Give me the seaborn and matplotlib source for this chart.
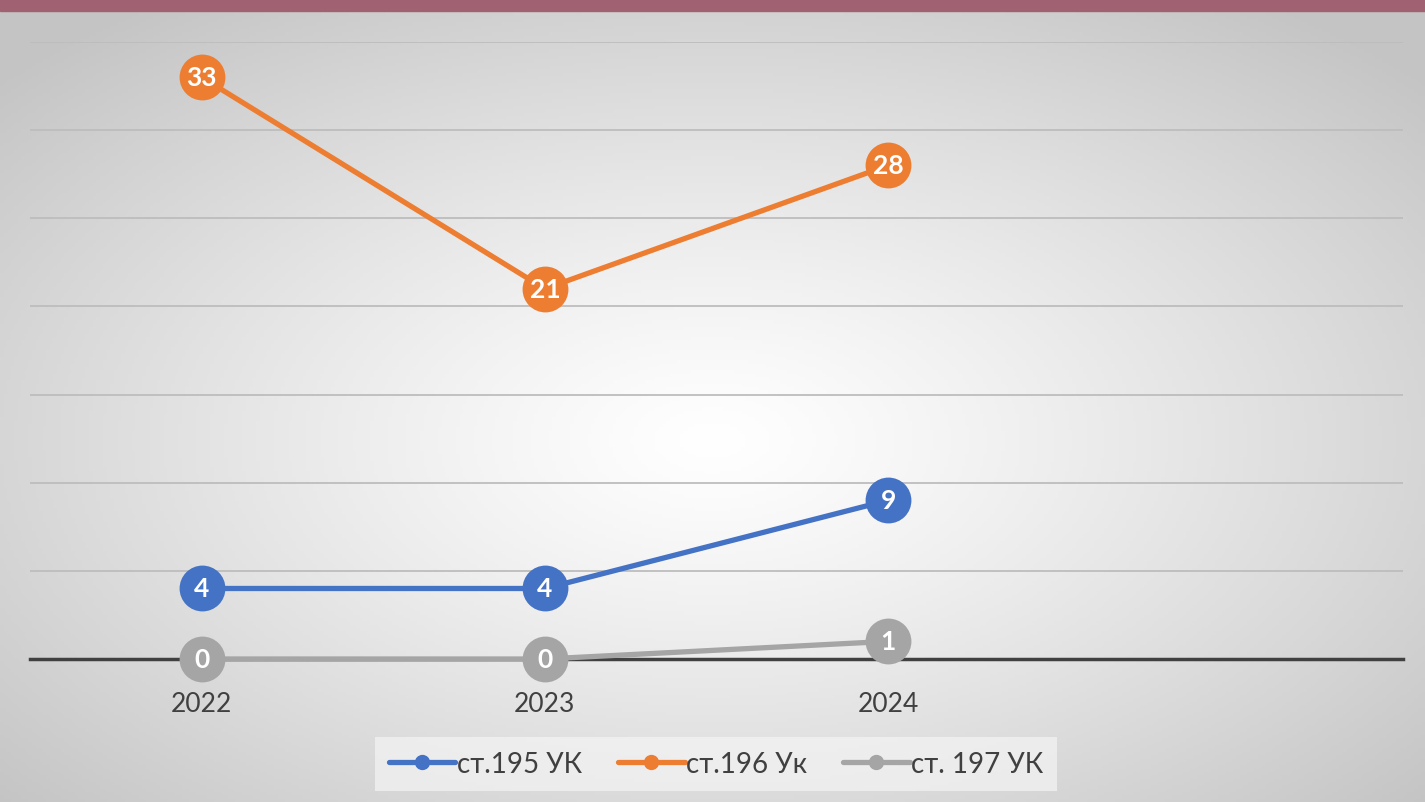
import numpy as np
import pandas as pd
import matplotlib
matplotlib.use("Agg")
import matplotlib.pyplot as plt
import seaborn as sns
from matplotlib.lines import Line2D

years = ["2022", "2023", "2024"]
series = ["ст.195 УК", "ст.196 Ук", "ст. 197 УК"]
v195 = [4, 4, 9]
v196 = [33, 21, 28]
v197 = [0, 0, 1]
colors = ["#4472C4", "#ED7D31", "#A5A5A5"]

rows = []
for name, vals in zip(series, [v195, v196, v197]):
    for i, (y, v) in enumerate(zip(years, vals)):
        rows.append({"pos": i, "year": y, "series": name, "value": v})
df = pd.DataFrame(rows)

sns.set_theme(style="white")
plt.rcParams["font.family"] = ["Lato", "DejaVu Sans"]

fig = plt.figure(figsize=(14.25, 8.03), dpi=100)

# radial gradient background
bg = fig.add_axes([0, 0, 1, 1], zorder=-10)
gx, gy = np.meshgrid(np.linspace(-1, 1, 400), np.linspace(-1, 1, 240))
r = np.sqrt(gx ** 2 + (gy + 0.1) ** 2)
r = np.clip(r / 1.35, 0, 1)
shade = 1.0 - 0.23 * r ** 1.2
bg.imshow(np.dstack([shade, shade, shade]), aspect="auto", extent=[0, 1, 0, 1],
          origin="lower")
bg.add_patch(plt.Rectangle((0, 1 - 12 / 803), 1, 12 / 803, color="#A06272"))
bg.set_xlim(0, 1)
bg.set_ylim(0, 1)
bg.axis("off")

ax = fig.add_axes([30 / 1425, (803 - 660) / 803, (1403 - 30) / 1425, (660 - 43) / 803])
ax.patch.set_alpha(0)

sns.lineplot(data=df, x="pos", y="value", hue="series", palette=colors,
             linewidth=3.8, marker="o", markersize=33, markeredgewidth=0,
             legend=False, ax=ax, zorder=3, clip_on=False)

for name, vals in zip(series, [v195, v196, v197]):
    for i, v in enumerate(vals):
        ax.text(i, v, str(v), ha="center", va="center", color="white",
                fontsize=19, fontweight="bold", zorder=5)

ax.set_xlim(-0.5, 3.5)
ax.set_ylim(0, 35)
ax.set_yticks(np.arange(0, 36, 5))
ax.yaxis.grid(True, color="#BDBDBD", linewidth=1.3)
ax.set_yticklabels([])
ax.tick_params(axis="y", length=0)
ax.set_xticks([0, 1, 2])
ax.set_xticklabels(years, fontsize=19, color="#404040")
ax.tick_params(axis="x", length=0, pad=23)
ax.set_xlabel("")
ax.set_ylabel("")
for s in ["top", "right", "left"]:
    ax.spines[s].set_visible(False)
ax.spines["bottom"].set_color("#404040")
ax.spines["bottom"].set_linewidth(2.5)
ax.spines["bottom"].set_zorder(2)
ax.set_axisbelow(True)

handles = [Line2D([0], [0], color=c, linewidth=3.8, marker="o", markersize=10,
                  solid_capstyle="round") for c in colors]
leg = fig.legend(handles, series, loc="center", bbox_to_anchor=(716 / 1425, 1 - 765 / 803),
                 ncol=3, fontsize=20, frameon=True, handlelength=2.4,
                 handletextpad=0.05, columnspacing=1.3, borderpad=0.5)
leg.get_frame().set_facecolor("#F4F4F4")
leg.get_frame().set_alpha(0.7)
leg.get_frame().set_edgecolor("none")
leg.get_frame().set_boxstyle("square", pad=0)
for t in leg.get_texts():
    t.set_color("#404040")

fig.savefig("out.png", dpi=100)
